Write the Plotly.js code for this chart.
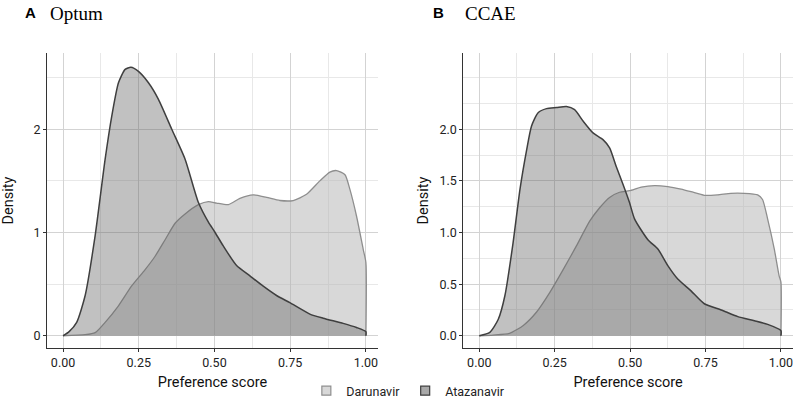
<!DOCTYPE html>
<html>
<head>
<meta charset="utf-8">
<script src="https://cdn.plot.ly/plotly-3.0.1.min.js"></script>
<style>html,body{margin:0;padding:0;background:#fff;}#chart{width:796px;height:406px;}</style>
</head>
<body>
<div id="chart"></div>
<script>
// ---- data ----
const seriesNames = ["Darunavir", "Atazanavir"];
const panelLetters = ["A", "B"];
const panelNames = ["Optum", "CCAE"];

const optumDaruX = [0,0.073,0.106,0.139,0.183,0.226,0.271,0.304,0.337,0.370,0.403,0.447,0.48,0.507,0.546,0.584,0.628,0.672,0.716,0.760,0.804,0.848,0.881,0.903,0.931,0.947,0.969,0.991,1.0,1.0];
const optumDaruY = [0,0.01,0.03,0.13,0.29,0.48,0.64,0.77,0.93,1.09,1.18,1.27,1.30,1.285,1.27,1.33,1.365,1.34,1.31,1.31,1.37,1.50,1.585,1.60,1.56,1.42,1.16,0.84,0.71,0];

const optumAtazX = [0,0.02,0.045,0.073,0.106,0.139,0.161,0.183,0.205,0.224,0.249,0.282,0.315,0.359,0.403,0.447,0.48,0.50,0.529,0.573,0.617,0.661,0.705,0.749,0.815,0.859,0.925,0.969,1.0,1.0];
const optumAtazY = [0,0.04,0.13,0.39,0.97,1.71,2.13,2.45,2.58,2.60,2.56,2.45,2.29,2.00,1.71,1.29,1.10,1.01,0.87,0.68,0.58,0.48,0.39,0.32,0.21,0.17,0.12,0.08,0.04,0];

const ccaeDaruX = [0,0.046,0.10,0.146,0.19,0.234,0.278,0.322,0.366,0.399,0.432,0.465,0.498,0.537,0.581,0.625,0.669,0.702,0.746,0.79,0.834,0.878,0.923,0.939,0.956,0.978,0.994,1.0,1.0];
const ccaeDaruY = [0,0.007,0.023,0.10,0.23,0.42,0.64,0.87,1.11,1.24,1.34,1.39,1.405,1.44,1.455,1.445,1.42,1.395,1.36,1.365,1.38,1.38,1.365,1.32,1.13,0.84,0.58,0.52,0];

const ccaeAtazX = [0,0.035,0.063,0.085,0.112,0.135,0.157,0.173,0.195,0.223,0.256,0.289,0.316,0.344,0.377,0.41,0.432,0.454,0.476,0.498,0.515,0.559,0.592,0.625,0.658,0.702,0.746,0.802,0.857,0.912,0.956,1.0,1.0];
const ccaeAtazY = [0,0.033,0.16,0.39,0.90,1.42,1.80,2.03,2.16,2.20,2.21,2.22,2.19,2.08,1.965,1.90,1.82,1.64,1.47,1.29,1.13,0.93,0.84,0.68,0.55,0.435,0.31,0.25,0.185,0.145,0.11,0.05,0];

const xTickVals = [0, 0.25, 0.5, 0.75, 1.0];
const optumYTicks = [0, 1, 2];
const ccaeYTicks = [0, 0.5, 1.0, 1.5, 2.0];

// ---- styles ----
const SANS = "Roboto, 'Liberation Sans', Arial, sans-serif";
const fills = ["rgba(178,178,178,0.5)", "rgba(100,100,100,0.4)"];
const lines = ["#8e8e8e", "#3f3f3f"];
const legendFills = ["#d8d8d8", "#a9a9a9"];

function area(x, y, i, xa, ya) {
  return {
    type: "scatter", mode: "lines", x: x, y: y, xaxis: xa, yaxis: ya,
    fill: "tozeroy", fillcolor: fills[i],
    line: {color: lines[i], width: i === 1 ? 1.5 : 1.3, shape: "spline", smoothing: 0.6},
    name: seriesNames[i], showlegend: false, hoverinfo: "skip"
  };
}
function legendItem(i) {
  return {
    type: "scatter", mode: "markers", x: [null], y: [null],
    marker: {symbol: "square", size: 9, color: legendFills[i], line: {color: lines[i], width: 1.2}},
    name: seriesNames[i], showlegend: true
  };
}

const traces = [
  area(optumDaruX, optumDaruY, 0, "x", "y"),
  area(optumAtazX, optumAtazY, 1, "x", "y"),
  area(ccaeDaruX, ccaeDaruY, 0, "x2", "y2"),
  area(ccaeAtazX, ccaeAtazY, 1, "x2", "y2"),
  legendItem(0), legendItem(1)
];

const W = 796, H = 406;
const yDom = [(H - 349) / H, (H - 53) / H];
const xRange = [-0.053, 1.04];
const yRange = [-0.12, 2.74];

function xAxis(domain, anchor) {
  return {
    domain: domain, anchor: anchor, range: xRange, tickmode: "array", tickvals: xTickVals,
    tickformat: ".2f", showline: true, linecolor: "#333", linewidth: 1,
    ticks: "outside", ticklen: 3, tickcolor: "#333", tickwidth: 1,
    showgrid: true, gridcolor: "#d3d3d3", gridwidth: 1, zeroline: false,
    minor: {tickmode: "linear", tick0: 0, dtick: 0.125, showgrid: true, gridcolor: "#e8e8e8", gridwidth: 1, ticks: ""},
    tickfont: {family: SANS, size: 12.5, color: "#222"},
    title: {text: "Preference score", font: {family: SANS, size: 14.5, color: "#111"}, standoff: 7}
  };
}
function yAxis(anchor, ticks, fmt, standoff) {
  return {
    domain: yDom, anchor: anchor, range: yRange, tickmode: "array", tickvals: ticks,
    tickformat: fmt, showline: true, linecolor: "#333", linewidth: 1,
    ticks: "outside", ticklen: 3, tickcolor: "#333", tickwidth: 1,
    showgrid: true, gridcolor: "#d3d3d3", gridwidth: 1, zeroline: false,
    minor: {tickmode: "linear", tick0: 0, dtick: fmt === "d" ? 0.5 : 0.25, showgrid: true, gridcolor: "#e8e8e8", gridwidth: 1, ticks: ""},
    tickfont: {family: SANS, size: 12.5, color: "#222"},
    title: {text: "Density", font: {family: SANS, size: 14.5, color: "#111"}, standoff: standoff}
  };
}

const layout = {
  width: W, height: H, margin: {l: 0, r: 0, t: 0, b: 0},
  paper_bgcolor: "#fff", plot_bgcolor: "rgba(0,0,0,0)",
  xaxis: xAxis([47 / W, 378 / W], "y"),
  yaxis: yAxis("x", optumYTicks, "d", 16),
  xaxis2: xAxis([463.3 / W, 793 / W], "y2"),
  yaxis2: yAxis("x2", ccaeYTicks, ".1f", 7),
  showlegend: true,
  legend: {orientation: "h", x: 0.513, xanchor: "center", y: (H - 392) / H, yanchor: "middle",
           font: {family: SANS, size: 12.5, color: "#222"}, itemwidth: 30, tracegroupgap: 0, bgcolor: "rgba(0,0,0,0)"},
  annotations: [
    {xref: "paper", yref: "paper", x: 23 / W, y: (H - 13) / H, xanchor: "left", yanchor: "middle", showarrow: false,
     text: "<b>" + panelLetters[0] + "</b>", font: {family: "'Liberation Sans', Arial, sans-serif", size: 15, color: "#000"}},
    {xref: "paper", yref: "paper", x: 48 / W, y: (H - 14) / H, xanchor: "left", yanchor: "middle", showarrow: false,
     text: panelNames[0], font: {family: "'Liberation Serif', 'Times New Roman', serif", size: 19, color: "#000"}},
    {xref: "paper", yref: "paper", x: 431 / W, y: (H - 13) / H, xanchor: "left", yanchor: "middle", showarrow: false,
     text: "<b>" + panelLetters[1] + "</b>", font: {family: "'Liberation Sans', Arial, sans-serif", size: 15, color: "#000"}},
    {xref: "paper", yref: "paper", x: 463 / W, y: (H - 14) / H, xanchor: "left", yanchor: "middle", showarrow: false,
     text: panelNames[1], font: {family: "'Liberation Serif', 'Times New Roman', serif", size: 19, color: "#000"}}
  ]
};

Plotly.newPlot("chart", traces, layout, {displayModeBar: false, staticPlot: true});
</script>
</body>
</html>
